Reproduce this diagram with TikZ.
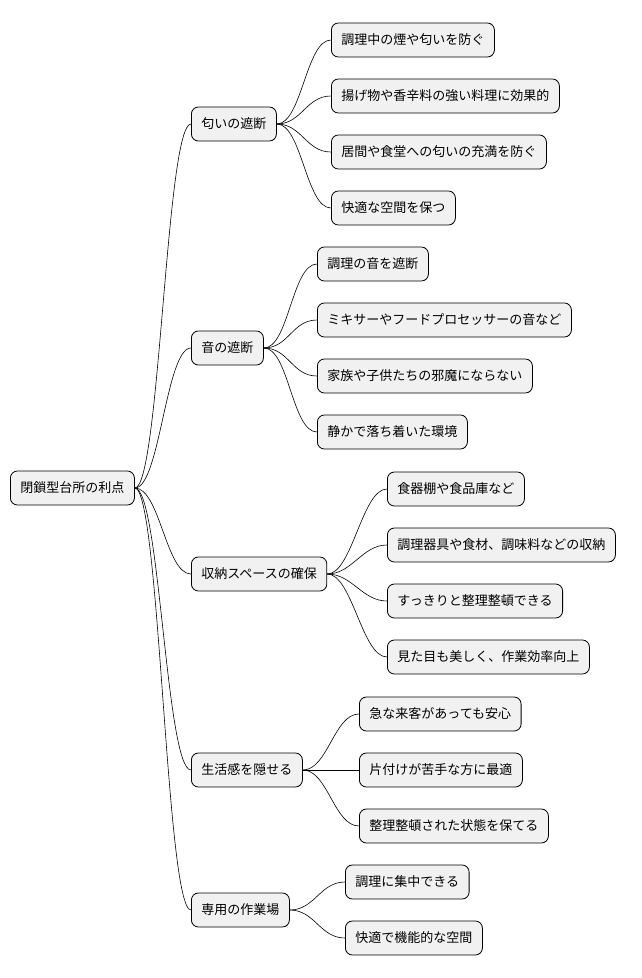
\documentclass[tikz,border=0pt]{standalone}
\usepackage{fontspec}
\setmainfont{Noto Sans CJK JP}
\begin{document}
\begin{tikzpicture}[x=1pt,y=-1pt,
  n/.style={draw=black,fill=black!5.5,rounded corners=7pt,line width=0.8pt,anchor=west,
    minimum height=34pt,inner xsep=10pt,font=\fontsize{13}{15}\selectfont},
  c/.style={line width=0.6pt}]
\useasboundingbox (0,0) rectangle (642,978);
\node[n] (r) at (10,488) {閉鎖型台所の利点};
\node[n] (a) at (191,124) {匂いの遮断};
\node[n] (b) at (191,348) {音の遮断};
\node[n] (cc) at (191,574) {収納スペースの確保};
\node[n] (d) at (191,770) {生活感を隠せる};
\node[n] (e) at (191,910) {専用の作業場};
\node[n] (a1) at (331,40) {調理中の煙や匂いを防ぐ};
\node[n] (a2) at (331,96) {揚げ物や香辛料の強い料理に効果的};
\node[n] (a3) at (331,152) {居間や食堂への匂いの充満を防ぐ};
\node[n] (a4) at (331,208) {快適な空間を保つ};
\node[n] (b1) at (317,264) {調理の音を遮断};
\node[n] (b2) at (317,320) {ミキサーやフードプロセッサーの音など};
\node[n] (b3) at (317,376) {家族や子供たちの邪魔にならない};
\node[n] (b4) at (317,432) {静かで落ち着いた環境};
\node[n] (c1) at (387,489) {食器棚や食品庫など};
\node[n] (c2) at (387,545) {調理器具や食材、調味料などの収納};
\node[n] (c3) at (387,601) {すっきりと整理整頓できる};
\node[n] (c4) at (387,657) {見た目も美しく、作業効率向上};
\node[n] (d1) at (359,714) {急な来客があっても安心};
\node[n] (d2) at (359,770) {片付けが苦手な方に最適};
\node[n] (d3) at (359,826) {整理整頓された状態を保てる};
\node[n] (e1) at (345,882) {調理に集中できる};
\node[n] (e2) at (345,938) {快適で機能的な空間};
\foreach \p/\k in {r/a,r/b,r/cc,r/d,r/e,a/a1,a/a2,a/a3,a/a4,b/b1,b/b2,b/b3,b/b4,cc/c1,cc/c2,cc/c3,cc/c4,d/d1,d/d2,d/d3,e/e1,e/e2}
  \draw[c] (\p.east) .. controls +(25,0) and +(-25,0) .. (\k.west);
\end{tikzpicture}
\end{document}
